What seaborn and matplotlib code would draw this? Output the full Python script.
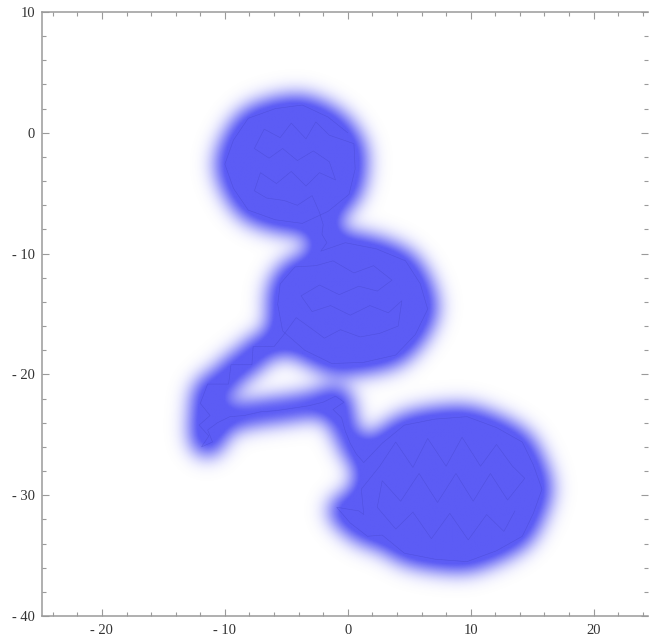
import matplotlib
matplotlib.use("Agg")
import matplotlib.pyplot as plt
import matplotlib.colors as mcolors
import seaborn as sns
import pandas as pd
import numpy as np
from matplotlib.ticker import FixedLocator, MultipleLocator

# random walk in four stretches
# upper blob: round the rim from the origin, then through the middle
top_x = [0.0, -1.6, -3.7, -5.9, -8.1, -9.3, -10.0, -9.3, -8.1, -5.9, -3.7, -1.6, 0.1, 0.6, 0.5,
         -1.5, -2.6, -3.4, -4.6, -5.5, -6.8, -7.6, -6.4, -5.3, -4.1, -2.8, -1.5,
         -1.0, -2.3, -3.4, -4.6, -5.8, -7.1, -7.6, -6.6, -5.2, -4.1, -2.9, -2.3,
         -2.0, -2.1, -1.7, -2.2]
top_y = [0.0, 1.3, 2.3, 2.0, 1.2, -0.6, -2.6, -4.6, -6.4, -7.2, -7.5, -6.5, -5.1, -3.0, -0.9,
         -0.2, 0.9, -0.5, 0.8, -0.4, 0.3, -1.3, -2.1, -1.3, -2.3, -1.5, -2.4,
         -3.9, -3.3, -4.4, -3.2, -4.2, -3.3, -4.8, -5.4, -5.6, -6.0, -5.2, -6.6,
         -7.6, -8.4, -9.1, -9.8]

# middle blob: rim clockwise from the neck, then the inside, out at the lower left
mid_x = [-0.2, 2.3, 4.7, 5.9, 6.5, 5.5, 3.9, 1.3, -1.3, -3.5, -5.3, -5.7, -5.5, -4.3, -2.6,
         -1.2, 0.5, 2.1, 3.6, 2.4, 0.9, -0.7, -2.3, -3.8, -2.9, -1.4, 0.2, 1.8, 3.3,
         4.4, 4.1, 2.6, 1.0, -0.6, -1.9, -3.1, -4.2]
mid_y = [-9.1, -9.6, -10.6, -12.5, -14.6, -16.7, -18.4, -19.0, -19.1, -18.0, -16.4, -14.2, -12.5, -11.1, -11.0,
         -10.6, -11.6, -11.0, -12.2, -13.1, -12.7, -13.4, -12.6, -13.5, -14.8, -14.3, -15.1, -14.3, -14.9,
         -13.9, -16.0, -16.6, -16.9, -16.3, -17.0, -16.1, -15.3]

arm_x = [-5.2, -6.0, -7.7, -7.8, -9.5, -9.7, -11.4, -12.0, -11.2, -12.1, -11.3, -11.9,
         -11.0, -11.4, -10.6, -9.6, -8.4, -7.1, -5.8, -4.5, -3.2, -2.0, -1.0, -0.3,
         -1.2, -0.5, -0.2, 0.2, 0.7, 1.3]
arm_y = [-16.7, -17.7, -17.7, -19.2, -19.2, -20.8, -20.8, -22.4, -23.4, -24.2, -25.1, -26.0,
         -25.6, -24.6, -24.0, -23.5, -23.4, -23.1, -23.0, -22.8, -22.6, -22.3, -21.8, -22.3,
         -22.9, -23.6, -24.7, -25.7, -26.6, -27.3]

# lower blob: rim clockwise over the top, the small spur at lower left, then inside
low_x = [2.8, 4.6, 7.1, 9.7, 12.1, 14.2, 15.1, 15.8, 15.1, 14.2, 12.1, 9.7, 7.1, 4.6, 2.8,
         1.6, 0.2, -0.9, 0.9, 1.3, 1.1,
         2.6, 3.9, 5.3, 6.5, 8.0, 9.3, 10.8, 12.1, 13.4, 14.4,
         13.0, 11.6, 10.2, 8.8, 7.3, 5.8, 4.3, 2.8, 2.4,
         3.9, 5.3, 6.8, 8.3, 9.8, 11.3, 12.7, 13.6]
low_y = [-25.7, -24.2, -23.7, -23.5, -24.4, -25.6, -27.5, -29.5, -31.5, -33.4, -34.6, -35.5, -35.3, -34.8, -33.3,
         -33.4, -32.3, -31.0, -31.3, -31.6, -29.5,
         -27.6, -25.6, -27.7, -25.3, -27.6, -25.2, -27.6, -25.8, -27.6, -28.6,
         -30.4, -28.2, -30.5, -28.2, -30.6, -28.2, -30.5, -28.8, -31.0,
         -32.8, -31.4, -33.6, -31.5, -33.7, -31.6, -33.0, -31.3]

x_ticks = [-20, -10, 0, 10, 20]
x_tick_labels = ["- 20", "- 10", "0", "10", "20"]
y_ticks = [10, 0, -10, -20, -30, -40]
y_tick_labels = ["10", "0", "- 10", "- 20", "- 30", "- 40"]

walk = pd.DataFrame({"x": top_x + mid_x + arm_x + low_x,
                     "y": top_y + mid_y + arm_y + low_y})

xmin, xmax, ymin, ymax = -24.9, 24.4, -40, 10


def erf(v):
    # Abramowitz & Stegun 7.1.26
    s = np.sign(v)
    v = np.abs(v)
    k = 1.0 / (1.0 + 0.3275911 * v)
    poly = ((((1.061405429 * k - 1.453152027) * k + 1.421413741) * k
             - 0.284496736) * k + 0.254829592) * k
    return s * (1.0 - poly * np.exp(-v * v))


def smooth(a, s_cells):
    n = int(4 * s_cells) + 1
    k = np.exp(-0.5 * (np.arange(-n, n + 1) / s_cells) ** 2)
    k /= k.sum()
    a = np.apply_along_axis(lambda r: np.convolve(r, k, mode="same"), 1, a)
    return np.apply_along_axis(lambda r: np.convolve(r, k, mode="same"), 0, a)


# thick walk mask (segment-wise gaussian, thresholded), then blurred soft
sigma = 0.75
nx = ny = 420
gx = np.linspace(xmin, xmax, nx)
gy = np.linspace(ymin, ymax, ny)
X, Y = np.meshgrid(gx, gy)
dens = np.zeros_like(X)
px, py = walk["x"].to_numpy(), walk["y"].to_numpy()
c = np.sqrt(2) * sigma
for i in range(len(px) - 1):
    dx, dy = px[i + 1] - px[i], py[i + 1] - py[i]
    L = np.hypot(dx, dy)
    ux, uy = dx / L, dy / L
    rx, ry = X - px[i], Y - py[i]
    t = rx * ux + ry * uy
    h2 = rx * rx + ry * ry - t * t
    dens += np.exp(-h2 / (2 * sigma ** 2)) * 0.5 * (erf((L - t) / c) - erf(-t / c))

u = np.clip((dens - 0.3) / 0.3, 0, 1)
mask = u * u * (3 - 2 * u)
soft = smooth(mask, 0.8 / (gx[1] - gx[0]))
alpha = np.clip(soft / 0.76, 0, 1)

sns.set_theme(style="ticks")
plt.rcParams["font.family"] = ["Liberation Serif", "DejaVu Serif"]

fig = plt.figure(figsize=(6.49, 6.43), dpi=100)
ax = fig.add_axes([41.7 / 649, 27 / 643, 606 / 649, 604 / 643])

blob_rgb = mcolors.to_rgb("#5c5cf5")
img = np.zeros(X.shape + (4,))
img[..., :3] = blob_rgb
img[..., 3] = alpha
ax.imshow(img, extent=(xmin, xmax, ymin, ymax), origin="lower",
          aspect="auto", interpolation="bilinear", zorder=1)

# the walk itself
sns.lineplot(data=walk, x="x", y="y", sort=False, estimator=None, ax=ax,
             color="#4040c0", alpha=0.42, linewidth=0.4, zorder=2)

ax.set_xlim(xmin, xmax)
ax.set_ylim(ymin, ymax)
ax.xaxis.set_major_locator(FixedLocator(x_ticks))
ax.set_xticklabels(x_tick_labels)
ax.yaxis.set_major_locator(FixedLocator(y_ticks))
ax.set_yticklabels(y_tick_labels)
ax.xaxis.set_minor_locator(MultipleLocator(2))
ax.yaxis.set_minor_locator(MultipleLocator(2))
ax.set_xlabel("")
ax.set_ylabel("")

ax.tick_params(which="both", direction="in", top=True, right=True,
               color="#9a9a9a", labelcolor="#333333", labelsize=10.5, width=0.8)
ax.tick_params(which="major", length=5)
ax.tick_params(which="minor", length=3)
ax.tick_params(axis="x", pad=5.5)
ax.tick_params(axis="y", pad=4.8)
for side in ["left", "bottom", "top"]:
    ax.spines[side].set_color("#9a9a9a")
    ax.spines[side].set_linewidth(1.1)
ax.spines["right"].set_visible(False)

fig.savefig("out.png", dpi=100)
